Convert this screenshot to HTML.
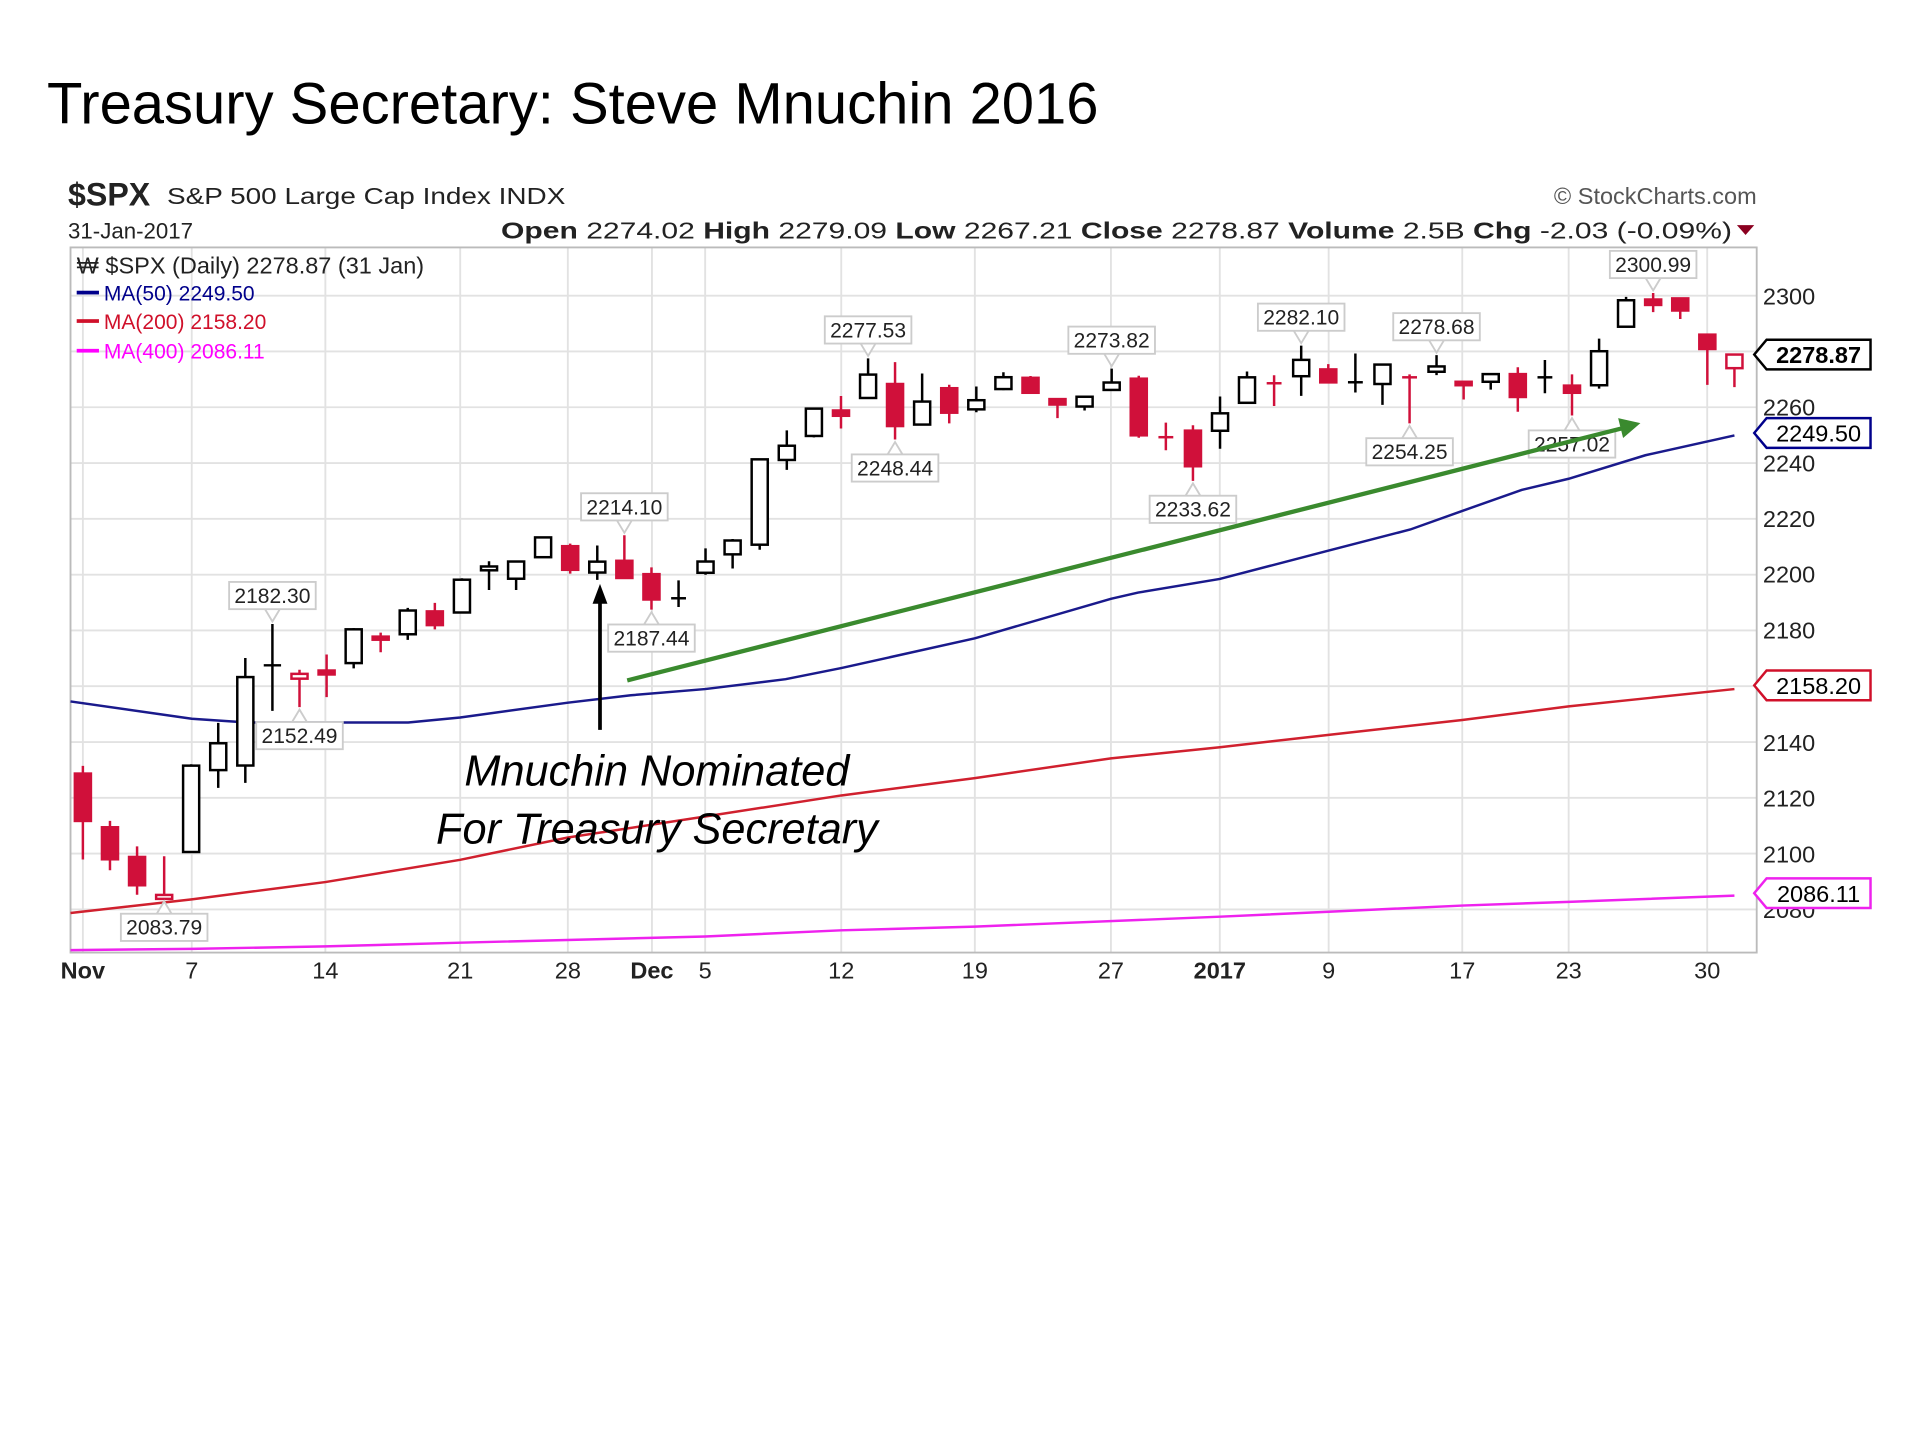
<!DOCTYPE html>
<html><head><meta charset="utf-8"><style>
html,body{margin:0;padding:0;background:#fff;}
svg{display:block;}
text{font-family:"Liberation Sans",sans-serif;}
.r{stroke:#d0103a;stroke-width:2;}
.k{stroke:#000;stroke-width:2;}
.rf{fill:#d0103a;} .h{fill:#fff;}
.gl{stroke:#e2e2e2;stroke-width:1.5;}
.lb rect,.lb path{fill:#fff;stroke:#ccc;stroke-width:1.5;}
.lb text{font-size:17px;fill:#222;text-anchor:middle;}
.ax{font-size:19px;fill:#222;}
.dx{font-size:19px;fill:#222;text-anchor:middle;}
</style></head><body>
<svg width="1920" height="1440" viewBox="0 0 1552 1164" preserveAspectRatio="none" xmlns="http://www.w3.org/2000/svg">
<rect width="1552" height="1164" fill="#fff"/>
<text x="38" y="100" font-size="47" textLength="850" lengthAdjust="spacingAndGlyphs" fill="#000">Treasury Secretary: Steve Mnuchin 2016</text>
<text x="55" y="166" font-size="26" font-weight="bold" fill="#222">$SPX</text>
<text x="135" y="165" font-size="19" fill="#222" textLength="322" lengthAdjust="spacingAndGlyphs">S&amp;P 500 Large Cap Index  INDX</text>
<text x="55" y="193" font-size="18" fill="#222">31-Jan-2017</text>
<text x="405" y="193" font-size="19" fill="#222" textLength="995" lengthAdjust="spacingAndGlyphs"><tspan font-weight="bold">Open</tspan> 2274.02  <tspan font-weight="bold">High</tspan> 2279.09  <tspan font-weight="bold">Low</tspan> 2267.21  <tspan font-weight="bold">Close</tspan> 2278.87  <tspan font-weight="bold">Volume</tspan> 2.5B  <tspan font-weight="bold">Chg</tspan> -2.03 (-0.09%)</text>
<path d="M1404,182 L1418,182 L1411,190 Z" fill="#8b0020"/>
<text x="1420" y="165" font-size="19" fill="#555" text-anchor="end">© StockCharts.com</text>

<!-- grid -->
<g class="gl">
<line x1="57" x2="1420" y1="239" y2="239"/><line x1="57" x2="1420" y1="284.1" y2="284.1"/><line x1="57" x2="1420" y1="329.2" y2="329.2"/><line x1="57" x2="1420" y1="374.3" y2="374.3"/><line x1="57" x2="1420" y1="419.4" y2="419.4"/><line x1="57" x2="1420" y1="464.5" y2="464.5"/><line x1="57" x2="1420" y1="509.6" y2="509.6"/><line x1="57" x2="1420" y1="554.7" y2="554.7"/><line x1="57" x2="1420" y1="599.8" y2="599.8"/><line x1="57" x2="1420" y1="644.9" y2="644.9"/><line x1="57" x2="1420" y1="690" y2="690"/><line x1="57" x2="1420" y1="735.1" y2="735.1"/>
<line x1="67" x2="67" y1="200" y2="770"/><line x1="155" x2="155" y1="200" y2="770"/><line x1="263" x2="263" y1="200" y2="770"/><line x1="372" x2="372" y1="200" y2="770"/><line x1="459" x2="459" y1="200" y2="770"/><line x1="527" x2="527" y1="200" y2="770"/><line x1="570" x2="570" y1="200" y2="770"/><line x1="680" x2="680" y1="200" y2="770"/><line x1="788" x2="788" y1="200" y2="770"/><line x1="898" x2="898" y1="200" y2="770"/><line x1="986" x2="986" y1="200" y2="770"/><line x1="1074" x2="1074" y1="200" y2="770"/><line x1="1182" x2="1182" y1="200" y2="770"/><line x1="1268" x2="1268" y1="200" y2="770"/><line x1="1380" x2="1380" y1="200" y2="770"/>
</g>
<g class="ax">
<text x="1425" y="246">2300</text><text x="1425" y="336">2260</text><text x="1425" y="381">2240</text><text x="1425" y="426">2220</text><text x="1425" y="471">2200</text><text x="1425" y="516">2180</text><text x="1425" y="607">2140</text><text x="1425" y="652">2120</text><text x="1425" y="697">2100</text><text x="1425" y="742">2080</text>
</g>
<g class="dx">
<text x="67" y="791" font-weight="bold">Nov</text><text x="155" y="791">7</text><text x="263" y="791">14</text><text x="372" y="791">21</text><text x="459" y="791">28</text><text x="527" y="791" font-weight="bold">Dec</text><text x="570" y="791">5</text><text x="680" y="791">12</text><text x="788" y="791">19</text><text x="898" y="791">27</text><text x="986" y="791" font-weight="bold">2017</text><text x="1074" y="791">9</text><text x="1182" y="791">17</text><text x="1268" y="791">23</text><text x="1380" y="791">30</text>
</g>
<rect x="57" y="200" width="1363" height="570" fill="none" stroke="#bbb" stroke-width="1.5"/>

<!-- MAs -->
<polyline fill="none" stroke="#1a1a8c" stroke-width="2" points="57,567 155,581 200,584 330,584 372,580 459,568 510,562 570,557 635,549 680,540 788,516 898,484 920,479 986,468 1074,445 1140,428 1182,413 1230,396 1268,387 1330,368 1402,352"/>
<polyline fill="none" stroke="#d0202e" stroke-width="2" points="57,738 155,727 263,713 372,695 459,677 570,660 680,643 788,629 898,613 986,604 1074,594 1182,582 1268,571 1402,557"/>
<polyline fill="none" stroke="#ee22ee" stroke-width="2" points="57,768 155,767 263,765 372,762 570,757 680,752 788,749 986,741 1074,737 1182,732 1268,729 1402,724"/>

<!-- candles -->
<g class="r">
<path d="M67,619.1V694.8 M88.9,663.5V703.5 M110.8,684.2V723.3 M132.7,692.1V726.6 M242.1,541.4V571.6 M264,529.1V563.5 M307.7,511.4V527.2 M351.5,487.3V508.7 M460.9,439.4V463.7 M504.7,432.7V467.2 M526.6,458.6V492.8 M679.8,320.1V346.4 M723.5,292.7V355.3 M767.3,311V342.2 M833,303.9V317.6 M854.8,322V338 M920.5,303.7V353.8 M942.4,341.6V364 M964.3,343.7V388.7 M1029.9,303.3V328.2 M1073.7,294.3V309.1 M1139.4,302.6V342.2 M1183.1,308.6V322.9 M1226.9,296.9V332.8 M1270.7,302.6V335.9 M1336.3,236.8V252.3 M1358.2,241.2V257.9 M1380.1,270.5V311.1 M1402,286.2V312.9"/>
<rect class="rf" x="60.5" y="625.3" width="13" height="38.3"/>
<rect class="rf" x="82.4" y="668.7" width="13" height="25.9"/>
<rect class="rf" x="104.3" y="692.7" width="13" height="22.9"/>
<rect class="h" x="126.2" y="723.4" width="13" height="3.2"/>
<rect class="h" x="235.6" y="544.7" width="13" height="3.9"/>
<rect class="rf" x="257.5" y="542" width="13" height="3.2"/>
<rect class="rf" x="301.2" y="514.6" width="13" height="2.5"/>
<rect class="rf" x="345" y="494.2" width="13" height="11.1"/>
<rect class="rf" x="454.4" y="441.5" width="13" height="19.1"/>
<rect class="rf" x="498.2" y="453.3" width="13" height="13.9"/>
<rect class="rf" x="520.1" y="464.1" width="13" height="20.5"/>
<rect class="rf" x="673.3" y="331.8" width="13" height="4.3"/>
<rect class="rf" x="717" y="310.4" width="13" height="34"/>
<rect class="rf" x="760.8" y="313.8" width="13" height="19.8"/>
<rect class="rf" x="826.5" y="305.4" width="13" height="12.1"/>
<rect class="rf" x="848.3" y="322.6" width="13" height="4.4"/>
<rect class="rf" x="914" y="306.1" width="13" height="45.8"/>
<line x1="936.4" x2="948.4" y1="353.4" y2="353.4"/>
<rect class="rf" x="957.8" y="348.1" width="13" height="28.8"/>
<line x1="1023.9" x2="1035.9" y1="309.8" y2="309.8"/>
<rect class="rf" x="1067.2" y="298.6" width="13" height="10.5"/>
<line x1="1133.4" x2="1145.4" y1="305" y2="305"/>
<rect class="rf" x="1176.6" y="308.6" width="13" height="2.8"/>
<rect class="rf" x="1220.4" y="302.4" width="13" height="18.5"/>
<rect class="rf" x="1264.2" y="311.7" width="13" height="5.8"/>
<rect class="rf" x="1329.8" y="242.1" width="13" height="4.4"/>
<rect class="rf" x="1351.7" y="241.2" width="13" height="9.8"/>
<rect class="rf" x="1373.6" y="270.5" width="13" height="11.6"/>
<rect class="h" x="1395.5" y="286.6" width="13" height="11"/>
</g>
<g class="k">
<path d="M154.5,617.8V688.7 M176.4,584.3V636.9 M198.3,531.9V632.8 M220.2,504.4V574.6 M285.9,507.7V540.3 M329.6,491.4V517.2 M373.4,467.4V495.1 M395.3,453.7V476.9 M417.2,453.9V476.9 M439,434.4V450.4 M482.8,440.9V468.7 M548.5,469.1V490.7 M570.3,443.3V464.6 M592.2,435.7V459.5 M614.1,370.6V444.4 M636,347.9V379.8 M657.9,329.7V353.5 M701.7,289.7V321.7 M745.4,301.9V343.2 M789.2,312.4V333.2 M811.1,300.9V315.4 M876.7,320.7V331.8 M898.6,298V315.3 M986.2,320.5V362.7 M1008,300.3V325.6 M1051.8,279.4V320 M1095.6,285.7V317.3 M1117.5,294.7V327.3 M1161.2,287.1V303.2 M1205,302V314.9 M1248.8,291V317.9 M1292.6,273.7V314.1 M1314.4,240V264.1"/>
<rect class="h" x="148" y="618.9" width="13" height="69.8"/>
<rect class="h" x="169.9" y="600.8" width="13" height="21.7"/>
<rect class="h" x="191.8" y="547.3" width="13" height="71.5"/>
<line x1="213.2" x2="227.2" y1="537.8" y2="537.8"/>
<rect class="h" x="279.4" y="508.7" width="13" height="27.3"/>
<rect class="h" x="323.1" y="493.5" width="13" height="19.2"/>
<rect class="h" x="366.9" y="468.6" width="13" height="26.5"/>
<rect class="h" x="388.8" y="457.9" width="13" height="3.1"/>
<rect class="h" x="410.7" y="453.9" width="13" height="13.9"/>
<rect class="h" x="432.5" y="434.4" width="13" height="16"/>
<rect class="h" x="476.3" y="454" width="13" height="8.8"/>
<line x1="542.5" x2="554.5" y1="483.6" y2="483.6"/>
<rect class="h" x="563.8" y="453.9" width="13" height="9.1"/>
<rect class="h" x="585.7" y="436.9" width="13" height="11.2"/>
<rect class="h" x="607.6" y="371.3" width="13" height="69"/>
<rect class="h" x="629.5" y="360.3" width="13" height="11.5"/>
<rect class="h" x="651.4" y="330.3" width="13" height="22.1"/>
<rect class="h" x="695.2" y="302.8" width="13" height="18.9"/>
<rect class="h" x="738.9" y="324.6" width="13" height="18.6"/>
<rect class="h" x="782.7" y="323.5" width="13" height="7.4"/>
<rect class="h" x="804.6" y="304.9" width="13" height="9.6"/>
<rect class="h" x="870.2" y="320.7" width="13" height="7.9"/>
<rect class="h" x="892.1" y="309.2" width="13" height="6"/>
<rect class="h" x="979.7" y="334.1" width="13" height="14.1"/>
<rect class="h" x="1001.5" y="305" width="13" height="20.6"/>
<rect class="h" x="1045.3" y="290.9" width="13" height="13.2"/>
<line x1="1089.6" x2="1101.6" y1="309" y2="309"/>
<rect class="h" x="1111" y="294.7" width="13" height="15.7"/>
<rect class="h" x="1154.7" y="296.2" width="13" height="4.3"/>
<rect class="h" x="1198.5" y="302.4" width="13" height="6.2"/>
<line x1="1242.8" x2="1254.8" y1="305" y2="305"/>
<rect class="h" x="1286.1" y="283.9" width="13" height="27.5"/>
<rect class="h" x="1307.9" y="242.7" width="13" height="21.4"/>
</g>

<!-- price labels -->
<g class="lb">
<path d="M214.2,492.4 L220.2,502.4 L226.2,492.4"/><rect x="185.2" y="470.4" width="70" height="22"/><text x="220.2" y="487.4">2182.30</text>
<path d="M236.1,583.6 L242.1,573.6 L248.1,583.6"/><rect x="207.1" y="583.6" width="70" height="22"/><text x="242.1" y="600.6">2152.49</text>
<path d="M126.7,738.6 L132.7,728.6 L138.7,738.6"/><rect x="97.7" y="738.6" width="70" height="22"/><text x="132.7" y="755.6">2083.79</text>
<path d="M498.7,420.7 L504.7,430.7 L510.7,420.7"/><rect x="469.7" y="398.7" width="70" height="22"/><text x="504.7" y="415.7">2214.10</text>
<path d="M520.6,504.8 L526.6,494.8 L532.6,504.8"/><rect x="491.6" y="504.8" width="70" height="22"/><text x="526.6" y="521.8">2187.44</text>
<path d="M695.7,277.7 L701.7,287.7 L707.7,277.7"/><rect x="666.7" y="255.7" width="70" height="22"/><text x="701.7" y="272.7">2277.53</text>
<path d="M717.5,367.3 L723.5,357.3 L729.5,367.3"/><rect x="688.5" y="367.3" width="70" height="22"/><text x="723.5" y="384.3">2248.44</text>
<path d="M892.6,286 L898.6,296 L904.6,286"/><rect x="863.6" y="264" width="70" height="22"/><text x="898.6" y="281">2273.82</text>
<path d="M958.3,400.7 L964.3,390.7 L970.3,400.7"/><rect x="929.3" y="400.7" width="70" height="22"/><text x="964.3" y="417.7">2233.62</text>
<path d="M1045.8,267.4 L1051.8,277.4 L1057.8,267.4"/><rect x="1016.8" y="245.4" width="70" height="22"/><text x="1051.8" y="262.4">2282.10</text>
<path d="M1155.2,275.1 L1161.2,285.1 L1167.2,275.1"/><rect x="1126.2" y="253.1" width="70" height="22"/><text x="1161.2" y="270.1">2278.68</text>
<path d="M1133.4,354.2 L1139.4,344.2 L1145.4,354.2"/><rect x="1104.4" y="354.2" width="70" height="22"/><text x="1139.4" y="371.2">2254.25</text>
<path d="M1264.7,347.9 L1270.7,337.9 L1276.7,347.9"/><rect x="1235.7" y="347.9" width="70" height="22"/><text x="1270.7" y="364.9">2257.02</text>
<path d="M1330.3,224.8 L1336.3,234.8 L1342.3,224.8"/><rect x="1301.3" y="202.8" width="70" height="22"/><text x="1336.3" y="219.8">2300.99</text>
</g>

<!-- right tags -->
<path d="M1418,286.6 L1428,274.6 L1512,274.6 L1512,298.6 L1428,298.6 Z" fill="#fff" stroke="#000" stroke-width="2"/>
<text x="1470" y="293.6" font-size="19" text-anchor="middle" font-weight="bold">2278.87</text>
<path d="M1418,350 L1428,338 L1512,338 L1512,362 L1428,362 Z" fill="#fff" stroke="#00008b" stroke-width="2"/>
<text x="1470" y="357" font-size="19" text-anchor="middle">2249.50</text>
<path d="M1418,554 L1428,542 L1512,542 L1512,566 L1428,566 Z" fill="#fff" stroke="#d0102a" stroke-width="2"/>
<text x="1470" y="561" font-size="19" text-anchor="middle">2158.20</text>
<path d="M1418,722 L1428,710 L1512,710 L1512,734 L1428,734 Z" fill="#fff" stroke="#ee22ee" stroke-width="2"/>
<text x="1470" y="729" font-size="19" text-anchor="middle">2086.11</text>

<!-- legend -->
<text x="62" y="221" font-size="19" fill="#222">₩ $SPX (Daily) 2278.87 (31 Jan)</text>
<g font-size="17">
<rect x="62" y="235" width="18" height="3" fill="#00008b"/><text x="84" y="243" fill="#00008b">MA(50) 2249.50</text>
<rect x="62" y="258" width="18" height="3" fill="#d0102a"/><text x="84" y="266" fill="#d0102a">MA(200) 2158.20</text>
<rect x="62" y="282" width="18" height="3" fill="#ff00ff"/><text x="84" y="290" fill="#ff00ff">MA(400) 2086.11</text>
</g>

<!-- annotations -->
<line x1="485" y1="590" x2="485" y2="485" stroke="#000" stroke-width="3"/>
<path d="M485,472 L479,488 L491,488 Z" fill="#000"/>
<line x1="507" y1="550" x2="1312" y2="346" stroke="#3a8a2e" stroke-width="3.5"/>
<path d="M1326,342 L1308,338 L1312,354 Z" fill="#3a8a2e"/>
<text x="531" y="635" font-size="35" font-style="italic" text-anchor="middle" fill="#000">Mnuchin Nominated</text>
<text x="531" y="682" font-size="35" font-style="italic" text-anchor="middle" fill="#000">For Treasury Secretary</text>
</svg>
</body></html>
